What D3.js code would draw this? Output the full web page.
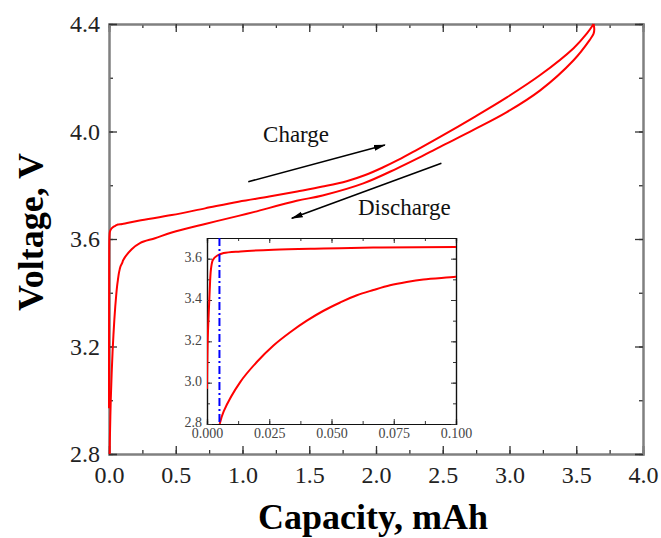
<!DOCTYPE html>
<html>
<head>
<meta charset="utf-8">
<script src="https://cdn.jsdelivr.net/npm/d3@7"></script>
<style>
  body { margin: 0; background: #fff; }
</style>
</head>
<body>
<div id="chart"></div>
<script>
const SERIF = "'Liberation Serif', 'Times New Roman', Times, serif";

// charge curve (upper), capacity in mAh / voltage in V
const chargeCap = [0, 0.00027, 0.00067, 0.0011, 0.0016, 0.0024, 0.004, 0.0067, 0.0134, 0.0267, 0.0468, 0.0668, 0.1,
  0.22, 0.47, 0.72, 0.97, 1.2, 1.41, 1.6, 1.78, 1.92, 2.05, 2.17, 2.3, 2.48, 2.73, 2.98, 3.23, 3.48, 3.58, 3.63];
const chargeV = [2.97, 3.2, 3.33, 3.45, 3.55, 3.595, 3.614, 3.627, 3.635, 3.643, 3.649, 3.654, 3.656,
  3.668, 3.689, 3.714, 3.739, 3.758, 3.777, 3.795, 3.815, 3.838, 3.866, 3.895, 3.93, 3.98, 4.052, 4.127, 4.21, 4.31, 4.365, 4.4];

// discharge curve (lower)
const dischargeCap = [3.63, 3.635, 3.63, 3.6, 3.48, 3.23, 2.98, 2.73, 2.48, 2.3, 2.155, 1.905, 1.6, 1.406, 1.09, 0.97,
  0.72, 0.47, 0.345, 0.232, 0.17, 0.107, 0.1, 0.0869, 0.0802, 0.0735, 0.0668, 0.0602, 0.0535, 0.0468, 0.0401,
  0.0334, 0.0267, 0.02, 0.0134, 0.0067, 0.0051];
const dischargeV = [4.4, 4.38, 4.364, 4.34, 4.265, 4.153, 4.072, 4.006, 3.943, 3.897, 3.862, 3.807, 3.762, 3.742, 3.701, 3.686,
  3.656, 3.624, 3.603, 3.585, 3.562, 3.522, 3.512, 3.499, 3.487, 3.471, 3.448, 3.423, 3.388, 3.348, 3.3,
  3.244, 3.18, 3.1, 3.004, 2.861, 2.8];

const xTicks = [0, 0.5, 1.0, 1.5, 2.0, 2.5, 3.0, 3.5, 4.0];
const yTicks = [2.8, 3.2, 3.6, 4.0, 4.4];
const insetXTicks = [0, 0.025, 0.05, 0.075, 0.1];
const insetYTicks = [2.8, 3.0, 3.2, 3.4, 3.6];
const cutoffCap = 0.005; // dash-dot marker in the inset

const W = 661, H = 538;
const margin = { top: 24, right: 18, bottom: 84, left: 109 };
const width = W - margin.left - margin.right;
const height = H - margin.top - margin.bottom;

const svg = d3.select("#chart").append("svg")
  .attr("width", W).attr("height", H)
  .style("font-family", SERIF);

const g = svg.append("g")
  .attr("transform", "translate(" + margin.left + "," + margin.top + ")");

const x = d3.scaleLinear().domain([0, 4]).range([0, width]);
const y = d3.scaleLinear().domain([2.8, 4.4]).range([height, 0]);

// minor ticks first, then major with labels
function styleAxis(sel) {
  sel.attr("font-family", SERIF);
  sel.select(".domain").attr("stroke", "#808080").attr("stroke-width", 2);
  sel.selectAll(".tick line").attr("stroke", "#333").attr("stroke-width", 1.3);
  sel.selectAll(".tick text").attr("fill", "#222")
    .style("font-family", SERIF).style("font-size", "24px");
}

const xMinor = d3.range(0, 4.01, 0.25);
const yMinor = d3.range(2.8, 4.41, 0.2);

g.append("g").attr("transform", "translate(0," + height + ")")
  .call(d3.axisBottom(x).tickValues(xMinor).tickSize(-4).tickFormat(""))
  .call(styleAxis);
g.append("g").attr("transform", "translate(0," + height + ")")
  .call(d3.axisBottom(x).tickValues(xTicks).tickSize(-8).tickPadding(12).tickFormat(d3.format(".1f")))
  .call(styleAxis);
g.append("g")
  .call(d3.axisTop(x).tickValues(xMinor).tickSize(-4).tickFormat(""))
  .call(styleAxis);
g.append("g")
  .call(d3.axisTop(x).tickValues(xTicks).tickSize(-8).tickFormat(""))
  .call(styleAxis);

g.append("g")
  .call(d3.axisLeft(y).tickValues(yMinor).tickSize(-4).tickFormat(""))
  .call(styleAxis);
g.append("g")
  .call(d3.axisLeft(y).tickValues(yTicks).tickSize(-8).tickPadding(9).tickFormat(d3.format(".1f")))
  .call(styleAxis);
g.append("g").attr("transform", "translate(" + width + ",0)")
  .call(d3.axisRight(y).tickValues(yMinor).tickSize(-4).tickFormat(""))
  .call(styleAxis);
g.append("g").attr("transform", "translate(" + width + ",0)")
  .call(d3.axisRight(y).tickValues(yTicks).tickSize(-8).tickFormat(""))
  .call(styleAxis);

// curves
const chargeData = chargeCap.map((c, i) => [c, chargeV[i]]);
const dischargeData = dischargeCap.map((c, i) => [c, dischargeV[i]]);

const lineMain = d3.line().x(d => x(d[0])).y(d => y(d[1])).curve(d3.curveCatmullRom.alpha(0.5));

[chargeData, dischargeData].forEach(data => {
  g.append("path")
    .datum(data)
    .attr("fill", "none")
    .attr("stroke", "#ff0000")
    .attr("stroke-width", 2)
    .attr("stroke-linejoin", "round")
    .attr("d", lineMain);
});

// arrows + labels
svg.append("defs").append("marker")
  .attr("id", "arrow")
  .attr("viewBox", "0 0 12 8")
  .attr("refX", 11).attr("refY", 4)
  .attr("markerWidth", 12).attr("markerHeight", 8)
  .attr("markerUnits", "userSpaceOnUse")
  .attr("orient", "auto")
  .append("path").attr("d", "M0,1 L12,4 L0,7 Z").attr("fill", "#000");

g.append("line")
  .attr("x1", x(1.043)).attr("y1", y(3.813))
  .attr("x2", x(2.067)).attr("y2", y(3.95))
  .attr("stroke", "#000").attr("stroke-width", 1.6)
  .attr("marker-end", "url(#arrow)");
g.append("line")
  .attr("x1", x(2.49)).attr("y1", y(3.882))
  .attr("x2", x(1.369)).attr("y2", y(3.677))
  .attr("stroke", "#000").attr("stroke-width", 1.6)
  .attr("marker-end", "url(#arrow)");

g.append("text").attr("x", x(1.154)).attr("y", y(3.961))
  .style("font-size", "23px").attr("fill", "#111").text("Charge");
g.append("text").attr("x", x(1.865)).attr("y", y(3.689))
  .style("font-size", "23px").attr("fill", "#111").text("Discharge");

// axis titles
svg.append("text")
  .attr("x", 373).attr("y", 529)
  .attr("text-anchor", "middle")
  .style("font-size", "36px").style("font-weight", "bold")
  .text("Capacity, mAh");
svg.append("text")
  .attr("transform", "translate(43,232) rotate(-90)")
  .attr("text-anchor", "middle")
  .style("font-size", "36px").style("font-weight", "bold")
  .text("Voltage, V");

// inset
const inset = { left: 207, top: 238, width: 249, height: 186 };
const ig = svg.append("g")
  .attr("transform", "translate(" + inset.left + "," + inset.top + ")");

ig.append("rect").attr("width", inset.width).attr("height", inset.height).attr("fill", "#fff");

const xi = d3.scaleLinear().domain([0, 0.1]).range([0, inset.width]);
const yi = d3.scaleLinear().domain([2.8, 3.7]).range([inset.height, 0]);

ig.append("defs").append("clipPath").attr("id", "insetClip")
  .append("rect").attr("width", inset.width).attr("height", inset.height);

function styleInset(sel) {
  sel.attr("font-family", SERIF);
  sel.select(".domain").attr("stroke", "#111").attr("stroke-width", 1.2);
  sel.selectAll(".tick line").attr("stroke", "#333");
  sel.selectAll(".tick text").attr("fill", "#444")
    .style("font-family", SERIF).style("font-size", "14px");
}

const ixMinor = d3.range(0, 0.1001, 0.0125);
const iyMinor = d3.range(2.8, 3.71, 0.1);

ig.append("g").attr("transform", "translate(0," + inset.height + ")")
  .call(d3.axisBottom(xi).tickValues(ixMinor).tickSize(-3).tickFormat(""))
  .call(styleInset);
ig.append("g").attr("transform", "translate(0," + inset.height + ")")
  .call(d3.axisBottom(xi).tickValues(insetXTicks).tickSize(-5).tickPadding(4).tickFormat(d3.format(".3f")))
  .call(styleInset);
ig.append("g")
  .call(d3.axisTop(xi).tickValues(ixMinor).tickSize(-3).tickFormat(""))
  .call(styleInset);
ig.append("g")
  .call(d3.axisTop(xi).tickValues(insetXTicks).tickSize(-5).tickFormat(""))
  .call(styleInset);
ig.append("g")
  .call(d3.axisLeft(yi).tickValues(iyMinor).tickSize(-3).tickFormat(""))
  .call(styleInset);
ig.append("g")
  .call(d3.axisLeft(yi).tickValues(insetYTicks).tickSize(-5).tickPadding(5).tickFormat(d3.format(".1f")))
  .call(styleInset)
  .selectAll(".tick text").attr("dy", "0.2em");
ig.append("g").attr("transform", "translate(" + inset.width + ",0)")
  .call(d3.axisRight(yi).tickValues(iyMinor).tickSize(-3).tickFormat(""))
  .call(styleInset);
ig.append("g").attr("transform", "translate(" + inset.width + ",0)")
  .call(d3.axisRight(yi).tickValues(insetYTicks).tickSize(-5).tickFormat(""))
  .call(styleInset);

const lineInset = d3.line().x(d => xi(d[0])).y(d => yi(d[1])).curve(d3.curveCatmullRom.alpha(0.5));
const curves = ig.append("g").attr("clip-path", "url(#insetClip)");
[chargeData, dischargeData].forEach(data => {
  curves.append("path")
    .datum(data)
    .attr("fill", "none")
    .attr("stroke", "#ff0000")
    .attr("stroke-width", 2)
    .attr("stroke-linejoin", "round")
    .attr("d", lineInset);
});

ig.append("line")
  .attr("x1", xi(cutoffCap)).attr("x2", xi(cutoffCap))
  .attr("y1", 0).attr("y2", inset.height)
  .attr("stroke", "#0000ff").attr("stroke-width", 2)
  .attr("stroke-dasharray", "8,3,2,3");
</script>
</body>
</html>
